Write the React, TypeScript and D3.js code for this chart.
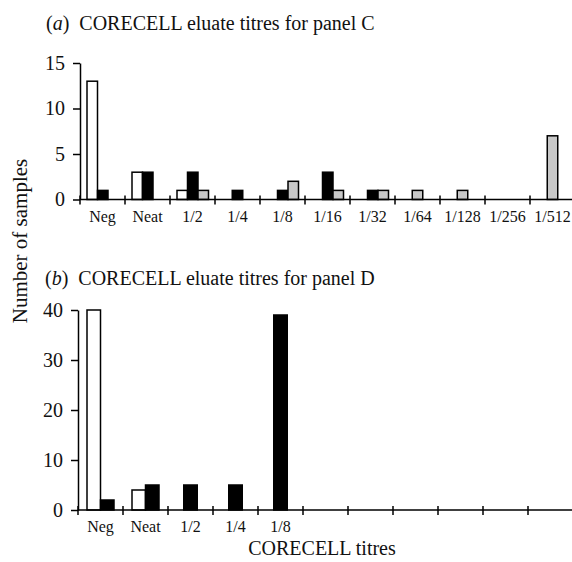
import { useRef, useEffect } from "react";
import * as d3 from "d3";

const titres = ["Neg", "Neat", "1/2", "1/4", "1/8", "1/16", "1/32", "1/64", "1/128", "1/256", "1/512"];
const panelDLabels = ["Neg", "Neat", "1/2", "1/4", "1/8"];

// panel C: three series per titre
const panelCSeries = ["white", "black", "grey"];
const panelCWhite = [13, 3, 1, 0, 0, 0, 0, 0, 0, 0, 0];
const panelCBlack = [1, 3, 3, 1, 1, 3, 1, 0, 0, 0, 0];
const panelCGrey = [0, 0, 1, 0, 2, 1, 1, 1, 1, 0, 7];

// panel D: two series per titre
const panelDSeries = ["white", "black"];
const panelDWhite = [40, 4, 0, 0, 0, 0, 0, 0, 0, 0, 0];
const panelDBlack = [2, 5, 5, 5, 39, 0, 0, 0, 0, 0, 0];

const fills: Record<string, string> = { white: "#ffffff", black: "#000000", grey: "#c8c8c8" };
const font = "Liberation Serif";

const App = () => {
  const chartRef = useRef(null);

  useEffect(() => {
    const svg = d3
      .select(chartRef.current)
      .append("svg")
      .attr("width", 572)
      .attr("height", 562)
      .style("position", "absolute")
      .style("left", "0px")
      .style("top", "0px");

    const label = (sel: any, size: number) =>
      sel.style("font-family", font).style("font-size", `${size}px`).attr("fill", "#111");

    const drawPanel = (opts: {
      x0: number;
      yTop: number;
      yZero: number;
      max: number;
      ticks: number[];
      series: string[];
      values: number[][];
      labels: string[];
      slotStart: number;
      slotWidth: number;
      title: string;
      letter: string;
      titleY: number;
      titleX: number;
    }) => {
      const x = d3
        .scaleBand<string>()
        .domain(titres)
        .range([opts.x0, opts.x0 + titres.length * 45])
        .padding(0);

      const inner = d3
        .scaleBand<string>()
        .domain(opts.series)
        .range([opts.slotStart, opts.slotStart + opts.series.length * opts.slotWidth])
        .padding(0);

      const y = d3.scaleLinear().domain([0, opts.max]).range([opts.yZero, opts.yTop]);

      const g = svg.append("g");

      // title
      const t = label(g.append("text").attr("x", opts.titleX).attr("y", opts.titleY), 20);
      t.append("tspan").text("(");
      t.append("tspan").style("font-style", "italic").text(opts.letter);
      t.append("tspan").text(")\u00a0 " + opts.title);

      // bars
      titres.forEach((cat, ci) => {
        const present = opts.series.filter((_s, si) => opts.values[si][ci] > 0);
        opts.series.forEach((s, si) => {
          const v = opts.values[si][ci];
          if (v <= 0) return;
          const bx =
            present.length === 1
              ? (x(cat) as number) + x.bandwidth() / 2 - inner.bandwidth() / 2
              : (x(cat) as number) + (inner(s) as number);
          g.append("rect")
            .attr("x", bx)
            .attr("y", y(v))
            .attr("width", inner.bandwidth())
            .attr("height", y(0) - y(v))
            .attr("fill", fills[s])
            .attr("stroke", "#000")
            .attr("stroke-width", 1.5);
        });
      });

      // y axis
      const yAxis = g
        .append("g")
        .attr("transform", `translate(${opts.x0}, 0)`)
        .call(d3.axisLeft(y).tickValues(opts.ticks).tickSize(7).tickSizeOuter(0).tickPadding(8));
      yAxis.selectAll("path").attr("stroke", "#000").attr("stroke-width", 1.5);
      yAxis.selectAll("line").attr("stroke", "#000").attr("stroke-width", 1.5);
      label(yAxis.selectAll("text"), 20);

      // x axis
      g.append("line")
        .attr("x1", opts.x0)
        .attr("x2", opts.x0 + titres.length * 45)
        .attr("y1", y(0))
        .attr("y2", y(0))
        .attr("stroke", "#000")
        .attr("stroke-width", 1.5);

      g.selectAll(".xtick")
        .data(titres)
        .enter()
        .append("line")
        .attr("x1", d => x(d) as number)
        .attr("x2", d => x(d) as number)
        .attr("y1", y(0) - 4)
        .attr("y2", y(0) + 5)
        .attr("stroke", "#000")
        .attr("stroke-width", 1.5);

      label(
        g
          .selectAll(".xlabel")
          .data(opts.labels)
          .enter()
          .append("text")
          .attr("x", d => (x(d) as number) + x.bandwidth() / 2)
          .attr("y", y(0) + 22)
          .attr("text-anchor", "middle")
          .text(d => d),
        16
      );
    };

    drawPanel({
      x0: 80,
      yTop: 63,
      yZero: 199.5,
      max: 15,
      ticks: [0, 5, 10, 15],
      series: panelCSeries,
      values: [panelCWhite, panelCBlack, panelCGrey],
      labels: titres,
      slotStart: 7,
      slotWidth: 10.5,
      title: "CORECELL eluate titres for panel C",
      letter: "a",
      titleY: 30,
      titleX: 46,
    });

    drawPanel({
      x0: 78,
      yTop: 310,
      yZero: 510,
      max: 40,
      ticks: [0, 10, 20, 30, 40],
      series: panelDSeries,
      values: [panelDWhite, panelDBlack],
      labels: panelDLabels,
      slotStart: 9,
      slotWidth: 13.5,
      title: "CORECELL eluate titres for panel D",
      letter: "b",
      titleY: 285,
      titleX: 45,
    });

    // axis titles
    label(
      svg
        .append("text")
        .attr("transform", "translate(27, 241) rotate(-90)")
        .attr("text-anchor", "middle")
        .text("Number of samples"),
      21
    );

    label(
      svg
        .append("text")
        .attr("x", 322)
        .attr("y", 555)
        .attr("text-anchor", "middle")
        .text("CORECELL titres"),
      20
    );

    return () => {
      d3.select(chartRef.current).select("svg").remove();
    };
  }, []);

  return <div ref={chartRef}></div>;
};

export default App;
